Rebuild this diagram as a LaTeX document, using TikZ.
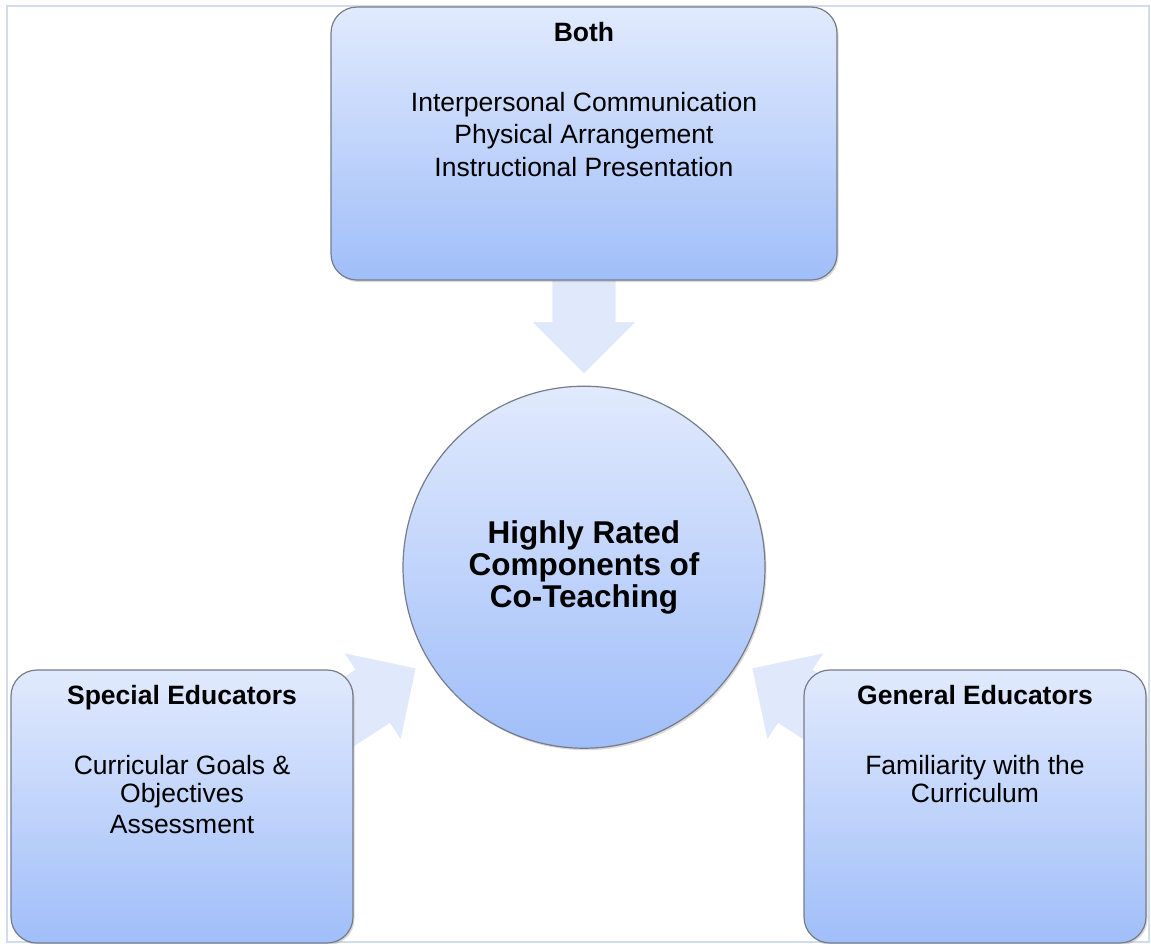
\documentclass[tikz,border=0pt]{standalone}
\usepackage{fontspec}
\setmainfont{Liberation Sans}
\usetikzlibrary{shapes,arrows,positioning,calc,shadows,backgrounds}

\definecolor{boxtop}{RGB}{225,234,253}
\definecolor{boxbot}{RGB}{160,190,249}
\definecolor{boxline}{RGB}{118,124,136}
\definecolor{arrfill}{RGB}{224,233,252}
\definecolor{frameblue}{RGB}{211,220,236}

\newcommand{\eduText}[2]{\parbox[c][243pt][t]{#1}{\centering\fontsize{26.5}{28}\selectfont #2}}

\begin{document}
\begin{tikzpicture}[x=1pt, y=-1pt,
    edu box/.style={draw=boxline, line width=1.2pt, rounded corners=26pt, top color=boxtop, bottom color=boxbot, inner xsep=8pt, inner ysep=15pt, drop shadow={shadow xshift=1.5pt, shadow yshift=-2pt, opacity=0.3}},
    hub circle/.style={circle, draw=boxline, line width=1.2pt, top color=boxtop, bottom color=boxbot, minimum size=362pt, inner sep=0pt, align=center, font={\fontsize{31.5}{32}\selectfont\bfseries}, drop shadow={shadow xshift=1.5pt, shadow yshift=-2pt, opacity=0.3}},
    blk arrow/.style={single arrow, draw=none, minimum height=100pt, minimum width=102pt, single arrow head extend=19.5pt, inner xsep=0pt, inner ysep=31.5pt, fill=arrfill, anchor=tip}]
    \useasboundingbox (0,0) rectangle (1151,943);

    \node[edu box] (both) at (584,143.5) {\eduText{490pt}{\textbf{Both}\\[42pt] Interpersonal Communication\\[4.5pt] Physical Arrangement\\[4.5pt] Instructional Presentation}};
    \node[hub circle, below=105pt of both] (hub) {Highly Rated\\ Components of\\ Co-Teaching};
    \node[edu box] (spec) at (182,806.5) {\eduText{326pt}{\textbf{Special Educators}\\[42pt] Curricular Goals \&\\ Objectives\\[3pt] Assessment}};
    \node[edu box] (gen) at (975,806.5) {\eduText{326pt}{\textbf{General Educators}\\[42pt] Familiarity with the\\ Curriculum}};

    \begin{pgfonlayer}{background}
        \draw[frameblue, line width=2.5pt] (7,6) rectangle (1149,942);
        \node[blk arrow, rotate=-90] (fromBoth) at ($(hub.center)!1.066!(hub.north)$) {};
        \node[blk arrow, rotate=33] (fromSpec) at ($(hub.center)!1.08!(hub.211)$) {};
        \node[blk arrow, rotate=147] (fromGen) at ($(hub.center)!1.08!(hub.329)$) {};
    \end{pgfonlayer}
\end{tikzpicture}
\end{document}
